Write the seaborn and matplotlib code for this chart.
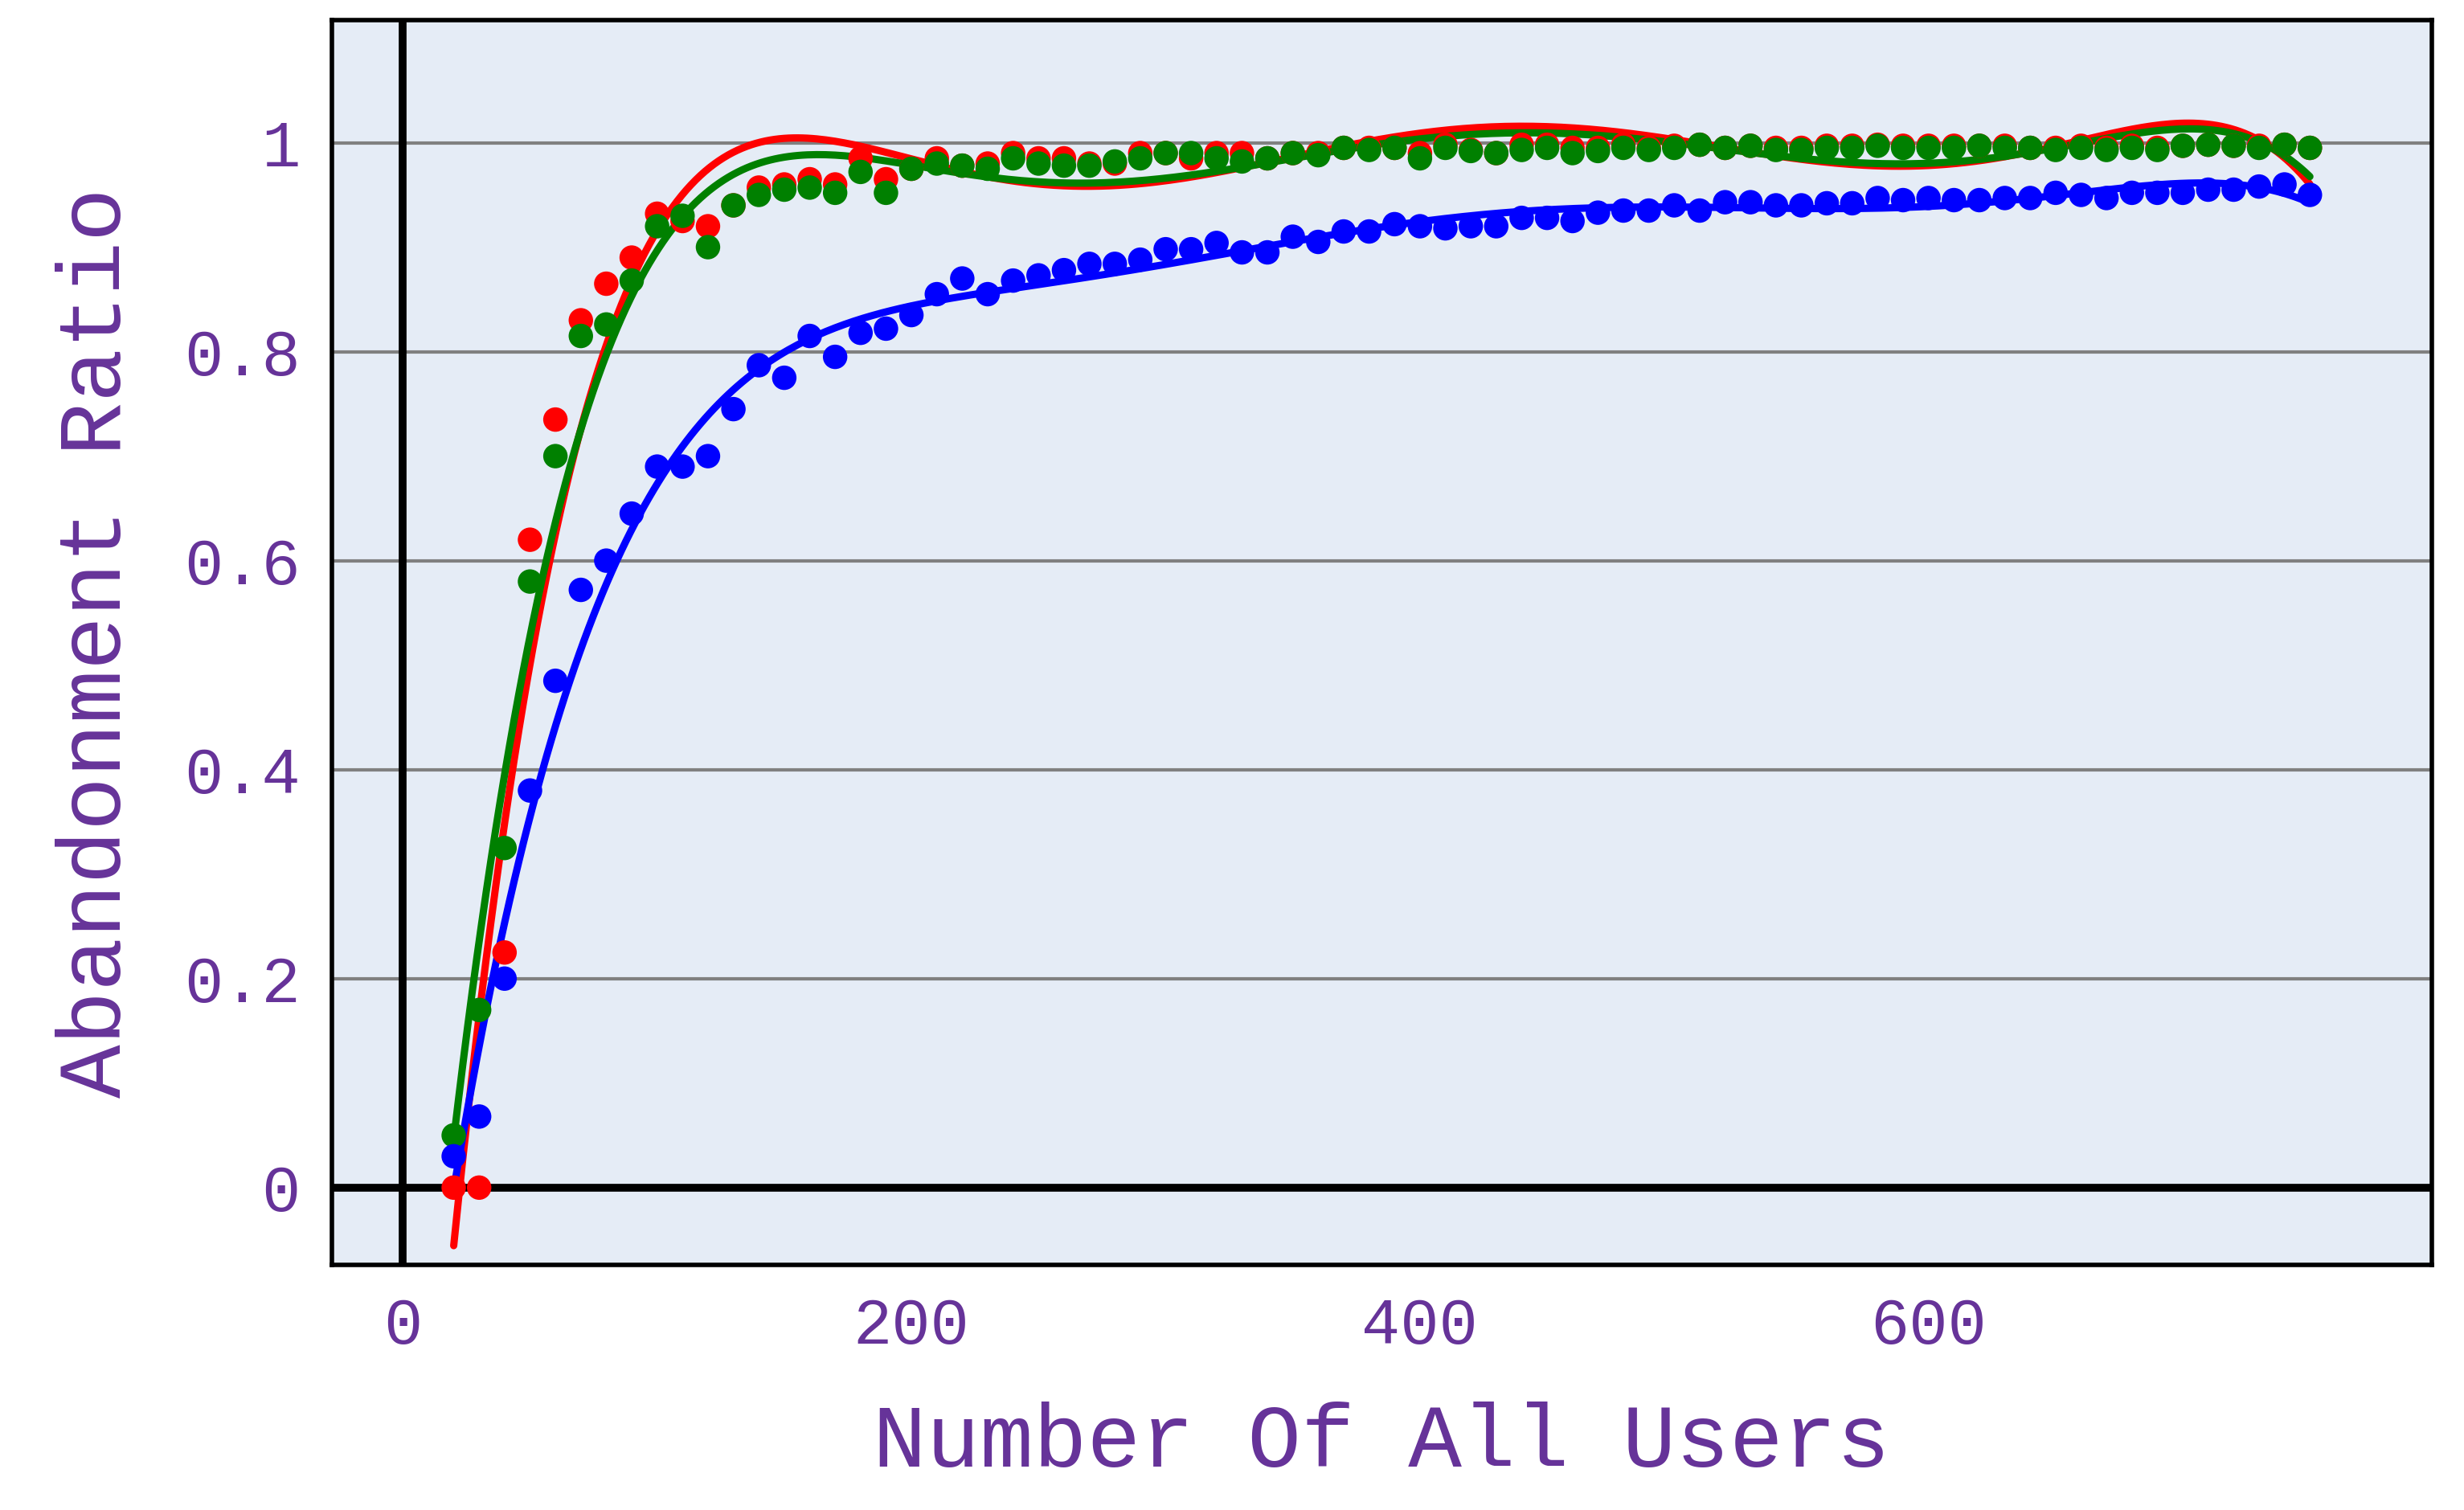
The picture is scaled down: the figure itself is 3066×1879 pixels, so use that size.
import numpy as np
import matplotlib
matplotlib.use("Agg")
import matplotlib.pyplot as plt
import seaborn as sns

sns.set_style("white")
plt.rcParams['font.family'] = ['Liberation Mono', 'DejaVu Sans Mono']

# data
users = list(range(20, 760, 10))
red = [0.0, 0.0, 0.225, 0.62, 0.735, 0.83, 0.865, 0.89, 0.932, 0.925,
       0.92, 0.94, 0.957, 0.96, 0.965, 0.96, 0.985, 0.965, 0.975, 0.985,
       0.978, 0.98, 0.99, 0.985, 0.985, 0.98, 0.98, 0.99, 0.99, 0.985,
       0.99, 0.99, 0.985, 0.99, 0.99, 0.995, 0.995, 0.995, 0.99, 0.998,
       0.993, 0.99, 0.998, 0.998, 0.995, 0.995, 0.998, 0.995, 0.997, 0.998,
       0.995, 0.997, 0.995, 0.995, 0.997, 0.997, 0.998, 0.997, 0.997, 0.997,
       0.997, 0.997, 0.995, 0.995, 0.997, 0.995, 0.997, 0.995, 0.997, 0.998,
       0.997, 0.997, 0.998, 0.995]
green = [0.05, 0.17, 0.325, 0.58, 0.70, 0.815, 0.826, 0.868, 0.92, 0.93,
         0.90, 0.94, 0.95, 0.955, 0.957, 0.952, 0.972, 0.952, 0.975, 0.98,
         0.978, 0.975, 0.985, 0.98, 0.978, 0.978, 0.982, 0.985, 0.99, 0.99,
         0.985, 0.982, 0.985, 0.99, 0.988, 0.995, 0.993, 0.995, 0.985, 0.995,
         0.992, 0.99, 0.993, 0.995, 0.99, 0.992, 0.995, 0.993, 0.995, 0.998,
         0.995, 0.997, 0.993, 0.993, 0.995, 0.995, 0.997, 0.995, 0.995, 0.995,
         0.997, 0.995, 0.995, 0.993, 0.995, 0.993, 0.995, 0.993, 0.997, 0.998,
         0.997, 0.995, 0.998, 0.995]
blue = [0.03, 0.068, 0.2, 0.38, 0.485, 0.572, 0.6, 0.645, 0.69, 0.69,
        0.70, 0.745, 0.787, 0.775, 0.815, 0.795, 0.818, 0.822, 0.835, 0.855,
        0.87, 0.855, 0.868, 0.873, 0.878, 0.884, 0.884, 0.888, 0.898, 0.898,
        0.904, 0.895, 0.895, 0.91, 0.905, 0.915, 0.915, 0.922, 0.92, 0.918,
        0.92, 0.92, 0.928, 0.928, 0.925, 0.933, 0.935, 0.935, 0.94, 0.935,
        0.943, 0.943, 0.94, 0.94, 0.942, 0.942, 0.947, 0.945, 0.947, 0.945,
        0.945, 0.947, 0.947, 0.952, 0.95, 0.947, 0.952, 0.952, 0.952, 0.955,
        0.955, 0.958, 0.96, 0.95]

series = [(red, 'red'), (green, 'green'), (blue, 'blue')]
purple = '#663399'

fig = plt.figure(figsize=(30.66, 18.79), dpi=100)
ax = fig.add_axes([0.1346, 0.1623, 0.8524, 0.8242])
ax.set_facecolor('#e5ecf6')

x = np.array(users, dtype=float)
xs = (x - 385) / 365
xfine = np.linspace(20, 750, 400)
for vals, col in series:
    # polynomial trend line
    coef = np.polyfit(xs, vals, 6)
    yfit = np.polyval(coef, (xfine - 385) / 365)
    sns.lineplot(x=xfine, y=yfit, color=col, linewidth=6.5, ax=ax)
for vals, col in series:
    sns.scatterplot(x=users, y=vals, color=col, s=480, edgecolor='none', ax=ax, zorder=3)

ax.set_xlim(-28, 798)
ax.set_ylim(-0.074, 1.117)
ax.set_xticks([0, 200, 400, 600])
ax.set_yticks([0, 0.2, 0.4, 0.6, 0.8, 1])
ax.set_yticklabels(['0', '0.2', '0.4', '0.6', '0.8', '1'])
ax.yaxis.grid(True, color='#808080', linewidth=3)
ax.set_axisbelow(True)
ax.axhline(0, color='black', linewidth=7, zorder=2)
ax.axvline(0, color='black', linewidth=7, zorder=2)
for sp in ax.spines.values():
    sp.set_color('black')
    sp.set_linewidth(4)
ax.tick_params(axis='both', labelsize=58, labelcolor=purple, length=0, pad=28)
ax.set_xlabel('Number Of All Users', fontsize=80, color=purple, labelpad=40)
ax.set_ylabel('Abandonment Ratio', fontsize=80, color=purple, labelpad=40)

fig.savefig('out.png', dpi=100)
